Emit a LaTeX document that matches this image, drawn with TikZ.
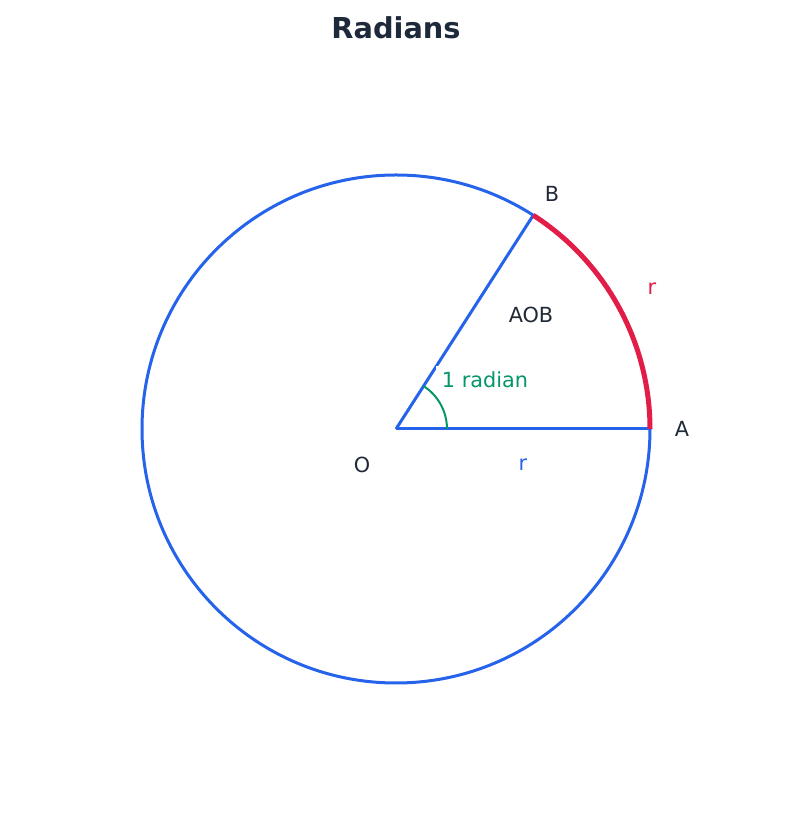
\documentclass[tikz,border=0pt]{standalone}
\usepackage{fontspec}
\setmainfont{DejaVu Sans}
\usetikzlibrary{positioning,calc}
\definecolor{lineblue}{RGB}{37, 99, 235}
\definecolor{arcred}{RGB}{225, 29, 72}
\definecolor{anglegreen}{RGB}{5, 150, 105}
\definecolor{ink}{RGB}{31, 41, 55}
\definecolor{titleink}{RGB}{30, 41, 59}

\tikzset{
  radius line/.style={lineblue, line width=3pt},
  label text/.style={ink, font=\fontsize{20.8}{25}\selectfont},
}

\begin{document}
\begin{tikzpicture}[x=1pt, y=1pt]
        \useasboundingbox (0,0) rectangle (791,825);

        % title
        \node[titleink, font=\fontsize{28.8}{34}\selectfont\bfseries] (title) at (396,797) {Radians};

        % circle and radii
        \coordinate (O) at (396,396);
        \coordinate (A) at (650,396);
        \coordinate (B) at ($(O)+(57.2958:254)$);

        \draw[radius line] (O) circle (254);
        \draw[radius line] (O) -- (A);
        \draw[radius line] (O) -- (B);

        % arc of length r
        \draw[arcred, line width=5pt] (A) arc (0:57.2958:254);

        % angle mark
        \draw[anglegreen, line width=2pt] ($(O)+(51,0)$) arc (0:57.2958:51);
        \node[anglegreen, fill=white, inner sep=6pt, font=\fontsize{20.8}{25}\selectfont] (one) at (485,445) {1 radian};

        % labels
        \node[label text] (labB) at (552,631) {B};
        \node[label text] (labA) at (682,396) {A};
        \node[label text] (labO) at (362,360) {O};
        \node[label text] (labAOB) at (531,510) {AOB};
        \node[label text, text=arcred] (labr1) at (652,536) {r};
        \node[label text, text=lineblue] (labr2) at (523,360) {r};
\end{tikzpicture}
\end{document}
